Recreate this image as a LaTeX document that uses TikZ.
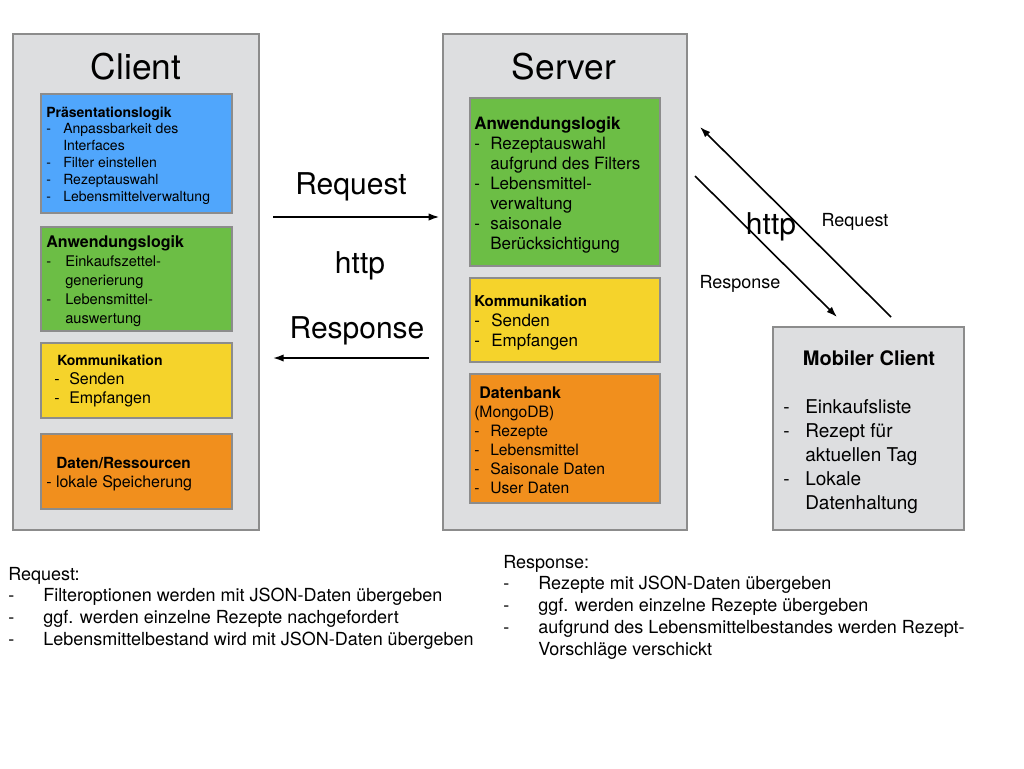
\documentclass[tikz,border=0pt]{standalone}
\usepackage{fontspec}
\setmainfont{TeX Gyre Heros}
\usetikzlibrary{arrows.meta,fit}
\definecolor{boxgrey}{RGB}{221,222,224}
\definecolor{boxline}{RGB}{140,140,140}
\definecolor{layerblue}{RGB}{80,166,252}
\definecolor{layergreen}{RGB}{108,190,69}
\definecolor{layeryellow}{RGB}{245,211,43}
\definecolor{layerorange}{RGB}{241,143,29}
\newlength{\dashgap}
\newcommand{\dsh}{\makebox[\dashgap][l]{-}}
\newcommand{\ind}{\hspace*{\dashgap}}
\newcommand{\setfs}[2]{\fontsize{#1}{#2}\selectfont}
\newcommand{\stack}[1]{\begin{tabular}[t]{@{}l@{}}#1\end{tabular}}
\begin{document}
\begin{tikzpicture}[x=0.75pt,y=-0.75pt,
  outer/.style={draw=boxline,fill=boxgrey,line width=1.5pt,inner sep=0pt},
  layer/.style={draw=boxline,line width=1.5pt,inner sep=0pt},
  title/.style={anchor=base,font=\setfs{26.5pt}{30pt}},
  big/.style={anchor=base,font=\setfs{22.5pt}{26pt}},
  small/.style={anchor=base,font=\setfs{13.5pt}{16pt}},
  txt/.style={anchor=base west,inner sep=0pt},
  arr/.style={-{Latex[length=8pt,width=5.5pt]},line width=1.2pt}]
\useasboundingbox (0,0) rectangle (1024,768);

% Client
\node[outer,fit={(13,34) (259,530)}] (client) {};
\node[title] (clienttitle) at (136,79) {Client};
\node[layer,fill=layerblue,fit={(41,94) (232,213)}] (pres) {};
\node[txt,font={\setfs{10.5pt}{12.75pt}\setlength{\dashgap}{12.75pt}}] (prestext)
  at ([shift={(6,24.5)}]pres.north west)
  {\stack{{\bfseries Präsentationslogik}\\[-0.5pt]
   \dsh Anpassbarkeit des\\ \ind Interfaces\\ \dsh Filter einstellen\\
   \dsh Rezeptauswahl\\ \dsh Lebensmittelverwaltung}};
\node[layer,fill=layergreen,fit={(41,227) (232,331)}] (capp) {};
\node[txt,font={\setfs{11pt}{14.25pt}\setlength{\dashgap}{14.25pt}}] (capptext)
  at ([shift={(6,21.5)}]capp.north west)
  {\stack{{\bfseries\setfs{12pt}{14pt}Anwendungslogik}\\
   \dsh Einkaufszettel-\\ \ind generierung\\ \dsh Lebensmittel-\\ \ind auswertung}};
\node[layer,fill=layeryellow,fit={(41,343) (232,418)}] (ckom) {};
\node[txt,font={\setfs{12pt}{14.25pt}\setlength{\dashgap}{11.25pt}}] (ckomtext)
  at ([shift={(14,23)}]ckom.north west)
  {\stack{\hspace*{2.25pt}{\bfseries\setfs{10.5pt}{13pt}Kommunikation}\\
   \dsh Senden\\ \dsh Empfangen}};
\node[layer,fill=layerorange,fit={(41,434) (232,509)}] (cdat) {};
\node[txt,font={\setfs{12pt}{14.25pt}}] (cdattext)
  at ([shift={(6,35)}]cdat.north west)
  {\stack{\hspace*{7.5pt}{\bfseries\setfs{11.5pt}{14pt}Daten/Ressourcen}\\
   - lokale Speicherung}};

% Server
\node[outer,fit={(443,34) (687,530)}] (server) {};
\node[title] (servertitle) at (564,79) {Server};
\node[layer,fill=layergreen,fit={(470,98) (660,266)}] (sapp) {};
\node[txt,font={\setfs{12.75pt}{15pt}\setlength{\dashgap}{12pt}}] (sapptext)
  at ([shift={(5,32)}]sapp.north west)
  {\stack{{\bfseries Anwendungslogik}\\
   \dsh Rezeptauswahl\\ \ind aufgrund des Filters\\ \dsh Lebensmittel-\\
   \ind verwaltung\\ \dsh saisonale\\ \ind Berücksichtigung}};
\node[layer,fill=layeryellow,fit={(470,278) (660,362)}] (skom) {};
\node[txt,font={\setfs{12.75pt}{15pt}\setlength{\dashgap}{12.75pt}}] (skomtext)
  at ([shift={(5,29)}]skom.north west)
  {\stack{{\bfseries\setfs{11.25pt}{13pt}Kommunikation}\\
   \dsh Senden\\ \dsh Empfangen}};
\node[layer,fill=layerorange,fit={(470,374) (660,503)}] (sdb) {};
\node[txt,font={\setfs{11.75pt}{14.25pt}\setlength{\dashgap}{12pt}}] (sdbtext)
  at ([shift={(5,25)}]sdb.north west)
  {\stack{\hspace*{3.75pt}{\bfseries\setfs{12pt}{14pt}Datenbank}\\
   (MongoDB)\\ \dsh Rezepte\\ \dsh Lebensmittel\\ \dsh Saisonale Daten\\
   \dsh User Daten}};

% Mobiler Client
\node[outer,fit={(773,327) (964,530)}] (mobile) {};
\node[anchor=base,font=\bfseries\setfs{15pt}{18pt}] (mobiletitle) at (869,365) {Mobiler Client};
\node[txt,font={\setfs{14.25pt}{18pt}\setlength{\dashgap}{16.5pt}}] (mobiletext)
  at ([shift={(11,87)}]mobile.north west)
  {\stack{\dsh Einkaufsliste\\ \dsh Rezept für\\ \ind aktuellen Tag\\ \dsh Lokale\\
   \ind Datenhaltung}};

% http zwischen Client und Server
\draw[arr,shorten >=2pt] ([shift={(13,184)}]client.north east) -- ([shift={(0,184)}]server.north west);
\draw[arr] ([shift={(-13,325)}]server.north west) -- ([shift={(13,325)}]client.north east);
\node[big] (reqlabel) at (351,194) {Request};
\node[big] (httplabel) at (360,273) {http};
\node[big] (reslabel) at (357,338) {Response};

% http zum mobilen Client
\coordinate (mreqend) at (700,127);
\coordinate (mresstart) at (695,176);
\draw[arr] ([shift={(119,-9)}]mobile.north west) -- (mreqend);
\draw[arr] (mresstart) -- ([shift={(65,-9)}]mobile.north west);
\node[big] (mhttplabel) at (771,234) {http};
\node[small] (mreqlabel) at (855,226) {Request};
\node[small] (mreslabel) at (740,288) {Response};

% Erklaerungen
\node[txt,font={\setfs{13.5pt}{16.4pt}\setlength{\dashgap}{26.25pt}}] (reqnotes) at (8,580)
  {\stack{Request:\\ \dsh Filteroptionen werden mit JSON-Daten übergeben\\
   \dsh ggf. werden einzelne Rezepte nachgefordert\\
   \dsh Lebensmittelbestand wird mit JSON-Daten übergeben}};
\node[txt,font={\setfs{13.5pt}{16.4pt}\setlength{\dashgap}{26.25pt}}] (resnotes) at (503,568)
  {\stack{Response:\\ \dsh Rezepte mit JSON-Daten übergeben\\
   \dsh ggf. werden einzelne Rezepte übergeben\\
   \dsh aufgrund des Lebensmittelbestandes werden Rezept-\\
   \ind Vorschläge verschickt}};
\end{tikzpicture}
\end{document}
